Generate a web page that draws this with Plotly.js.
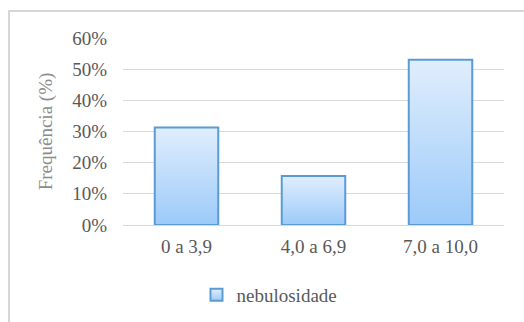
<!DOCTYPE html>
<html>
<head>
<meta charset="utf-8">
<script src="https://cdn.plot.ly/plotly-3.0.1.min.js"></script>
<style>
  html, body { margin: 0; padding: 0; background: #ffffff; }
  #wrap { position: relative; width: 524px; height: 322px; overflow: hidden; }
  #frame { position: absolute; left: 8px; top: 10px; width: 600px; height: 400px;
           border-left: 2px solid #d6d6d6; border-top: 2px solid #d6d6d6; box-sizing: border-box; }
  #chart { position: absolute; left: 0; top: 0; width: 524px; height: 322px; }
</style>
</head>
<body>
<div id="wrap">
  <div id="chart"></div>
  <div id="frame"></div>
</div>
<script>
const categories = ["0 a 3,9", "4,0 a 6,9", "7,0 a 10,0"];
const values = [0.313, 0.157, 0.530];
const seriesName = "nebulosidade";
const yTickVals = [0, 0.1, 0.2, 0.3, 0.4, 0.5, 0.6];
const yTickText = ["0%", "10%", "20%", "30%", "40%", "50%", "60%"];

const fontFam = "Liberation Serif";

const trace = {
  type: "bar",
  x: categories,
  y: values,
  name: seriesName,
  showlegend: true,
  marker: { color: "#bedcfb", line: { color: "#5b9bd5", width: 2 } },
  hoverinfo: "none"
};

const layout = {
  width: 524, height: 322,
  paper_bgcolor: "#ffffff",
  plot_bgcolor: "#ffffff",
  margin: { l: 123, r: 20, t: 38, b: 97, autoexpand: false },
  bargap: 0.5,
  font: { family: fontFam, color: "#595959", size: 19 },
  xaxis: {
    type: "category",
    showgrid: false,
    showline: true, linecolor: "#d9d9d9", linewidth: 1,
    ticks: "",
    ticklabelstandoff: 4,
    tickfont: { family: fontFam, size: 19, color: "#595959" },
    automargin: false,
    fixedrange: true
  },
  yaxis: {
    range: [0, 0.6],
    tickvals: yTickVals,
    ticktext: yTickText,
    showgrid: true, gridcolor: "#d9d9d9", gridwidth: 1,
    zeroline: false, showline: false,
    ticks: "", ticklen: 0,
    ticklabelstandoff: 15,
    tickfont: { family: fontFam, size: 19, color: "#595959" },
    title: { text: "Frequência (%)", font: { family: fontFam, size: 19, color: "#8c8c8c" }, standoff: 14 },
    automargin: false,
    fixedrange: true
  },
  showlegend: true,
  legend: {
    orientation: "h",
    xref: "container", yref: "container",
    x: 0.375, xanchor: "left",
    y: 0.084, yanchor: "middle",
    font: { family: fontFam, size: 19, color: "#595959" },
    bgcolor: "rgba(0,0,0,0)"
  }
};

Plotly.newPlot("chart", [trace], layout, { staticPlot: true, displayModeBar: false }).then(function (gd) {
  const svgNS = "http://www.w3.org/2000/svg";
  const svg = gd.querySelector("svg.main-svg");
  let defs = svg.querySelector("defs");
  if (!defs) { defs = document.createElementNS(svgNS, "defs"); svg.insertBefore(defs, svg.firstChild); }
  const grad = document.createElementNS(svgNS, "linearGradient");
  grad.setAttribute("id", "barGrad");
  grad.setAttribute("x1", "0"); grad.setAttribute("y1", "0");
  grad.setAttribute("x2", "0"); grad.setAttribute("y2", "1");
  [["0", "#e0eefd"], ["1", "#9ccaf9"]].forEach(function (s) {
    const st = document.createElementNS(svgNS, "stop");
    st.setAttribute("offset", s[0]);
    st.setAttribute("stop-color", s[1]);
    grad.appendChild(st);
  });
  defs.appendChild(grad);
  gd.querySelectorAll(".barlayer .point path, .legendpoints path").forEach(function (p) {
    p.style.fill = "url(#barGrad)";
  });
});
</script>
</body>
</html>
